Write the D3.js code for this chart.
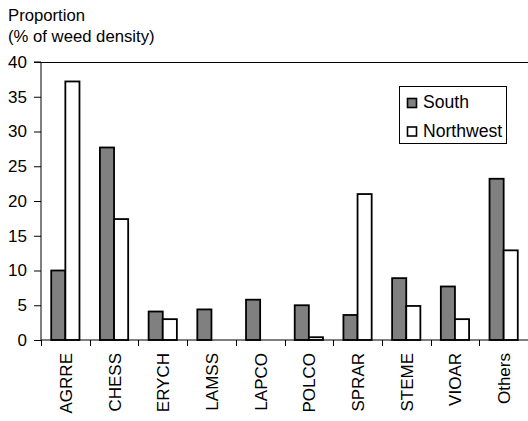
<!DOCTYPE html>
<html><head><meta charset="utf-8">
<script src="https://cdn.jsdelivr.net/npm/d3@7"></script>
<style>body{margin:0;background:#fff}svg{display:block}text{font-family:"Liberation Sans",Arial,sans-serif;fill:#000}</style>
</head><body>
<svg id="c" width="528" height="421"></svg>
<script>
const categories = ["AGRRE","CHESS","ERYCH","LAMSS","LAPCO","POLCO","SPRAR","STEME","VIOAR","Others"];
const south = [10.0, 27.7, 4.1, 4.4, 5.8, 5.0, 3.6, 8.9, 7.7, 23.2];
const northwest = [37.2, 17.4, 3.0, 0, 0, 0.4, 21.0, 4.9, 3.0, 12.9];
const seriesNames = ["South","Northwest"];
const yTicks = [0,5,10,15,20,25,30,35,40];

const svg = d3.select("#c");
const L=41, R=528, T=62, B=340;
const x = d3.scaleBand().domain(categories).range([L,R]);
const y = d3.scaleLinear().domain([0,40]).range([B,T]);
const groupW = x.bandwidth()*0.58;
const xs = d3.scaleBand().domain(seriesNames).range([0,groupW]);
const colors = {"South":"#808080","Northwest":"#ffffff"};

// top border
svg.append("line").attr("x1",L).attr("x2",R).attr("y1",T+0.5).attr("y2",T+0.5).attr("stroke","#000").attr("stroke-width",1);

const data = [];
categories.forEach((c,i)=>{
  data.push({c, s:"South", v:south[i]});
  if (northwest[i]>0) data.push({c, s:"Northwest", v:northwest[i]});
});
svg.append("g").selectAll("rect").data(data).join("rect")
  .attr("x",d=>x(d.c)+(x.bandwidth()-groupW)/2+xs(d.s))
  .attr("y",d=>y(d.v))
  .attr("width",xs.bandwidth())
  .attr("height",d=>y(0)-y(d.v))
  .attr("fill",d=>colors[d.s]).attr("stroke","#000").attr("stroke-width",1.8);

// y axis
const ya = svg.append("g").attr("transform",`translate(${L},0)`)
  .call(d3.axisLeft(y).tickValues(yTicks).tickSize(7).tickPadding(7));
ya.selectAll("text").style("font-size","17px");
ya.select(".domain").attr("d",`M-7,${T}H0V${B}`);

// x axis
const xa = svg.append("g").attr("transform",`translate(0,${B})`)
  .call(d3.axisBottom(x).tickSize(0).tickFormat(""));
xa.select(".domain").attr("d",`M${L},0H${R}`);
const tickPos = categories.map(c=>x(c)).concat([R]);
svg.append("g").selectAll("line").data(tickPos).join("line")
  .attr("x1",d=>Math.round(d)+0.5).attr("x2",d=>Math.round(d)+0.5).attr("y1",B).attr("y2",B+6).attr("stroke","#000");
svg.append("g").selectAll("text").data(categories).join("text")
  .attr("transform",d=>`translate(${x(d)+x.bandwidth()/2+6.5},353) rotate(-90)`)
  .attr("text-anchor","end").style("font-size","17px").text(d=>d);

// titles
svg.append("text").attr("x",8).attr("y",20.5).style("font-size","16.7px").text("Proportion");
svg.append("text").attr("x",8).attr("y",41.5).style("font-size","16.7px").text("(% of weed density)");

// legend
const lg = svg.append("g");
lg.append("rect").attr("x",399.5).attr("y",86.5).attr("width",107).attr("height",57).attr("fill","#fff").attr("stroke","#000");
seriesNames.forEach((s,i)=>{
  const yb = 108 + i*28.5;
  lg.append("rect").attr("x",407.5).attr("y",yb-9.5).attr("width",9).attr("height",9).attr("fill",colors[s]).attr("stroke","#000").attr("stroke-width",1.6);
  lg.append("text").attr("x",423).attr("y",yb).style("font-size","17.6px").text(s);
});
</script>
</body></html>
